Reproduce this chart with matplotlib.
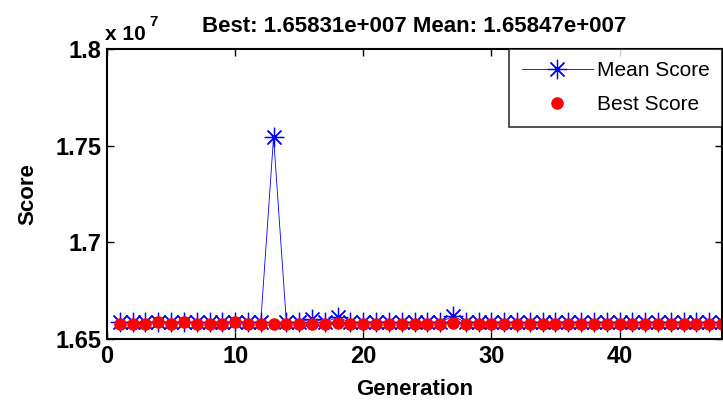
import matplotlib
matplotlib.use('Agg')
import matplotlib.pyplot as plt
from matplotlib.ticker import FuncFormatter

plt.rcParams['font.family'] = ['Liberation Sans', 'DejaVu Sans']

# generation index and scores (in units of 1e7)
generations = list(range(1, 49))
mean_score = [1.6586, 1.6586, 1.6586, 1.6587, 1.6586, 1.6587, 1.6586, 1.6586,
              1.6586, 1.6587, 1.6586, 1.6586, 1.7545, 1.6586, 1.6586, 1.6605,
              1.6587, 1.6612, 1.6586, 1.6586, 1.6588, 1.6586, 1.6586, 1.6586,
              1.6586, 1.6586, 1.6618, 1.6586, 1.6586, 1.6586, 1.6586, 1.6586,
              1.6586, 1.6586, 1.6586, 1.6587, 1.6586, 1.6586, 1.6586, 1.6586,
              1.6586, 1.6586, 1.6587, 1.6586, 1.6586, 1.6586, 1.6586, 1.6586]
best_score = [1.6579, 1.6579, 1.6579, 1.6588, 1.6579, 1.6588, 1.6579, 1.6579,
              1.6579, 1.6590, 1.6579, 1.6579, 1.6579, 1.6579, 1.6579, 1.6579,
              1.6579, 1.6583, 1.6579, 1.6579, 1.6579, 1.6579, 1.6579, 1.6579,
              1.6579, 1.6579, 1.6584, 1.6579, 1.6579, 1.6579, 1.6579, 1.6579,
              1.6579, 1.6579, 1.6579, 1.6579, 1.6579, 1.6579, 1.6579, 1.6579,
              1.6579, 1.6579, 1.6579, 1.6579, 1.6579, 1.6579, 1.6579, 1.6579]
best_final = '1.65831e+007'
mean_final = '1.65847e+007'

fig = plt.figure(figsize=(7.23, 4.03), dpi=100)
ax = fig.add_axes([107 / 723, 1 - 339 / 403, 615 / 723, 290 / 403])

# matlab style '*' marker: plus and cross combined
ax.plot(generations, mean_score, color='#0000ff', linewidth=0.6,
        marker=(8, 2, 0), markersize=14, markeredgewidth=0.9, label='Mean Score')
ax.plot(generations, best_score, linestyle='none', color='#ff0000',
        marker='o', markersize=8, label='Best Score')

ax.set_xlim(0, 48)
ax.set_ylim(1.65, 1.8)
ax.set_xticks([0, 10, 20, 30, 40])
ax.set_yticks([1.65, 1.7, 1.75, 1.8])
ax.yaxis.set_major_formatter(FuncFormatter(lambda v, p: '%g' % v))
ax.tick_params(direction='in', top=True, right=True, length=5, width=1,
               labelsize=17, pad=4)
for lbl in ax.get_xticklabels() + ax.get_yticklabels():
    lbl.set_fontweight('bold')
for sp in ax.spines.values():
    sp.set_linewidth(1.5)

ax.set_xlabel('Generation', fontsize=16, fontweight='bold', labelpad=8)
ax.set_ylabel('Score', fontsize=16, fontweight='bold', labelpad=12)
ax.set_title('Best: %s Mean: %s' % (best_final, mean_final),
             fontsize=16, fontweight='bold', pad=12)

fig.text(105 / 723, 1 - 40 / 403, 'x 10', fontsize=15, fontweight='bold',
         ha='left', va='baseline')
fig.text(149 / 723, 1 - 26 / 403, '7', fontsize=11, fontweight='bold',
         ha='left', va='baseline')

leg = ax.legend(loc='upper right', fontsize=15, frameon=True, fancybox=False,
                borderaxespad=0, handlelength=3.4, labelspacing=0.7,
                borderpad=0.6, handletextpad=0.2)
leg.get_frame().set_edgecolor('black')
leg.get_frame().set_linewidth(1.2)

fig.savefig('out.png', dpi=100)
